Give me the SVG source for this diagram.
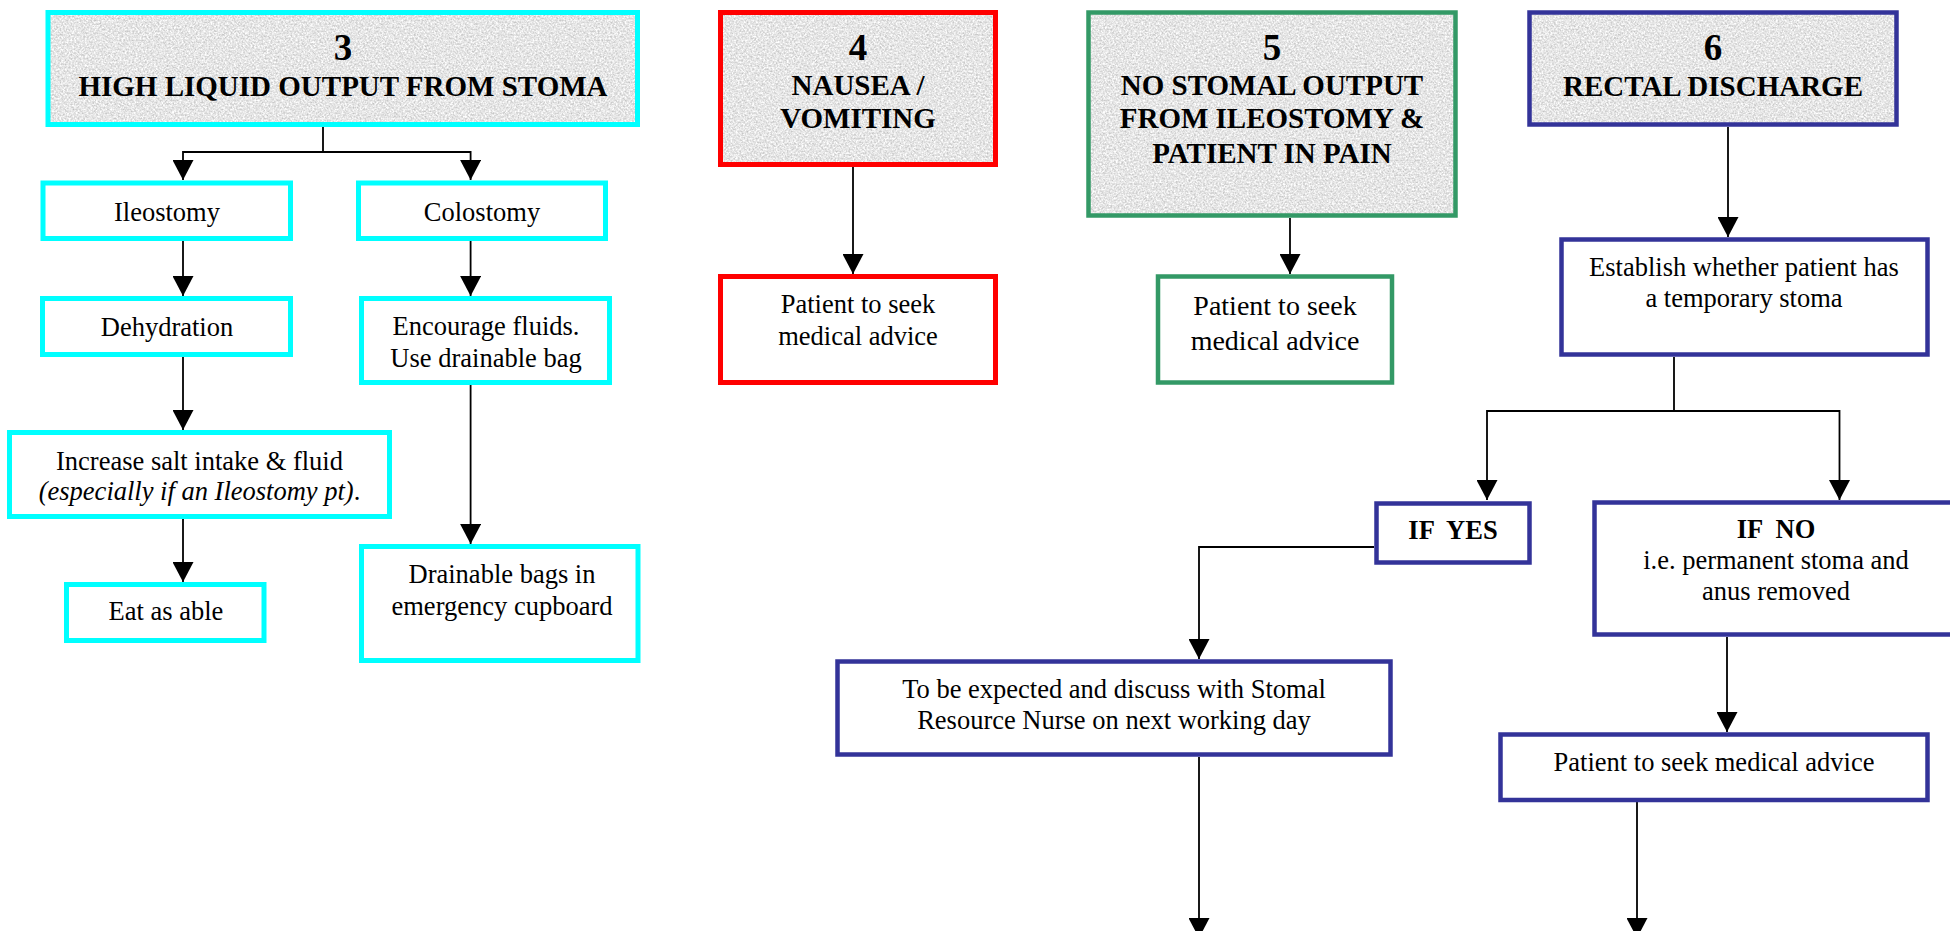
<svg xmlns="http://www.w3.org/2000/svg" width="1950" height="931" viewBox="0 0 1950 931">
<defs>
<style>
.box{fill:#fff;stroke-width:5}
.hdr{fill:#e4e4e4;stroke:none}
.cy{stroke:#00FFFF}
.rd{stroke:#FF0000}
.gr{stroke:#339966;stroke-width:4.5}
.bl{stroke:#333399;stroke-width:4.5}
.t{font-family:"Liberation Serif","Times New Roman",serif;font-size:26.5px;text-anchor:middle;fill:#000}
.h{font-weight:bold;font-size:29px}
.n{font-weight:bold;font-size:37px}
.c{fill:none;stroke:#000;stroke-width:1.8;marker-end:url(#ah)}
</style>
<marker id="ah" viewBox="0 0 20 21" markerWidth="20" markerHeight="21" refX="20" refY="10.5" orient="auto" markerUnits="userSpaceOnUse">
<path d="M0,0 L20,10.5 L0,21 z" fill="#000"/>
</marker>
<filter id="granite" x="0" y="0" width="1" height="1" color-interpolation-filters="sRGB">
<feTurbulence type="fractalNoise" baseFrequency="0.55" numOctaves="3" seed="7" result="n"/>
<feColorMatrix in="n" type="matrix" values="0.38 0 0 0 0.71  0.38 0 0 0 0.71  0.38 0 0 0 0.71  0 0 0 0 1" result="g"/>
<feComposite in="g" in2="SourceGraphic" operator="in"/>
</filter>
</defs>
<rect width="1950" height="931" fill="#fff"/>

<g id="connectors">
<path class="c" d="M323,127 V152 H183 V180"/>
<path class="c" d="M323,152 H470.6 V180"/>
<path class="c" d="M183,241 V296"/>
<path class="c" d="M470.6,241 V296"/>
<path class="c" d="M183,357 V430"/>
<path class="c" d="M183,519 V582"/>
<path class="c" d="M470.6,385 V544"/>
<path class="c" d="M853,167 V274"/>
<path class="c" d="M1290,218 V274"/>
<path class="c" d="M1728,127 V237"/>
<path class="c" d="M1674,357 V411 H1487 V500"/>
<path class="c" d="M1674,411 H1839.5 V500"/>
<path class="c" d="M1374,547 H1199 V659"/>
<path class="c" d="M1199,757 V938"/>
<path class="c" d="M1727,637 V732"/>
<path class="c" d="M1637,802 V938"/>
</g>

<g id="n3">
<rect class="hdr" filter="url(#granite)" x="48" y="12.5" width="589.5" height="112"/>
<rect class="box cy" x="48" y="12.5" width="589.5" height="112" style="fill:none"/>
<text class="t n" x="343" y="60">3</text>
<text class="t h" x="343" y="96">HIGH LIQUID OUTPUT FROM STOMA</text>
</g>
<g id="ileostomy">
<rect class="box cy" x="43" y="183" width="247.5" height="55.5"/>
<text class="t" x="167" y="221">Ileostomy</text>
</g>
<g id="colostomy">
<rect class="box cy" x="358.5" y="183" width="247" height="55.5"/>
<text class="t" x="482" y="221">Colostomy</text>
</g>
<g id="dehydration">
<rect class="box cy" x="42.5" y="298.5" width="248" height="56"/>
<text class="t" x="167" y="336">Dehydration</text>
</g>
<g id="increase">
<rect class="box cy" x="9.5" y="432.5" width="380" height="84"/>
<text class="t" x="199.5" y="470">Increase salt intake &amp; fluid</text>
<text class="t" x="199.5" y="500"><tspan font-style="italic">(especially if an Ileostomy pt)</tspan>.</text>
</g>
<g id="eat">
<rect class="box cy" x="66.5" y="584.5" width="197.5" height="56"/>
<text class="t" x="166" y="620">Eat as able</text>
</g>
<g id="encourage">
<rect class="box cy" x="361.5" y="298.5" width="248" height="84"/>
<text class="t" x="486" y="335">Encourage fluids.</text>
<text class="t" x="486" y="367">Use drainable bag</text>
</g>
<g id="drainable">
<rect class="box cy" x="361.5" y="546.5" width="276.5" height="114"/>
<text class="t" x="502" y="583">Drainable bags in</text>
<text class="t" x="502" y="615">emergency cupboard</text>
</g>

<g id="n4">
<rect class="hdr" filter="url(#granite)" x="720.5" y="12.5" width="275" height="152"/>
<rect class="box rd" x="720.5" y="12.5" width="275" height="152" style="fill:none"/>
<text class="t n" x="858" y="60">4</text>
<text class="t h" x="858" y="95">NAUSEA /</text>
<text class="t h" x="858" y="128">VOMITING</text>
</g>
<g id="n4advice">
<rect class="box rd" x="720.5" y="276.5" width="275" height="106"/>
<text class="t" x="858" y="313">Patient to seek</text>
<text class="t" x="858" y="345">medical advice</text>
</g>

<g id="n5">
<rect class="hdr" filter="url(#granite)" x="1088.5" y="12.5" width="367" height="203"/>
<rect class="box gr" x="1088.5" y="12.5" width="367" height="203" style="fill:none"/>
<text class="t n" x="1272" y="60">5</text>
<text class="t h" x="1272" y="95">NO STOMAL OUTPUT</text>
<text class="t h" x="1272" y="128">FROM ILEOSTOMY &amp;</text>
<text class="t h" x="1272" y="163">PATIENT IN PAIN</text>
</g>
<g id="n5advice">
<rect class="box gr" x="1158" y="276.5" width="234" height="106"/>
<text class="t" x="1275" y="315" style="font-size:28px">Patient to seek</text>
<text class="t" x="1275" y="350" style="font-size:28px">medical advice</text>
</g>

<g id="n6">
<rect class="hdr" filter="url(#granite)" x="1529.5" y="12.5" width="367" height="112"/>
<rect class="box bl" x="1529.5" y="12.5" width="367" height="112" style="fill:none"/>
<text class="t n" x="1713" y="60">6</text>
<text class="t h" x="1713" y="96">RECTAL DISCHARGE</text>
</g>
<g id="establish">
<rect class="box bl" x="1561.5" y="239.5" width="366" height="115"/>
<text class="t" x="1744" y="276">Establish whether patient has</text>
<text class="t" x="1744" y="307">a temporary stoma</text>
</g>
<g id="ifyes">
<rect class="box bl" x="1376.5" y="503.5" width="153" height="59"/>
<text class="t" x="1453" y="539" font-weight="bold" xml:space="preserve">IF  YES</text>
</g>
<g id="ifno">
<rect class="box bl" x="1594.5" y="502.5" width="363" height="132"/>
<text class="t" x="1776" y="538" font-weight="bold" xml:space="preserve">IF  NO</text>
<text class="t" x="1776" y="569">i.e. permanent stoma and</text>
<text class="t" x="1776" y="600">anus removed</text>
</g>
<g id="expected">
<rect class="box bl" x="837.5" y="661.5" width="553" height="93"/>
<text class="t" x="1114" y="698">To be expected and discuss with Stomal</text>
<text class="t" x="1114" y="729">Resource Nurse on next working day</text>
</g>
<g id="n6advice">
<rect class="box bl" x="1500.5" y="734.5" width="427" height="65.5"/>
<text class="t" x="1714" y="771">Patient to seek medical advice</text>
</g>
</svg>
